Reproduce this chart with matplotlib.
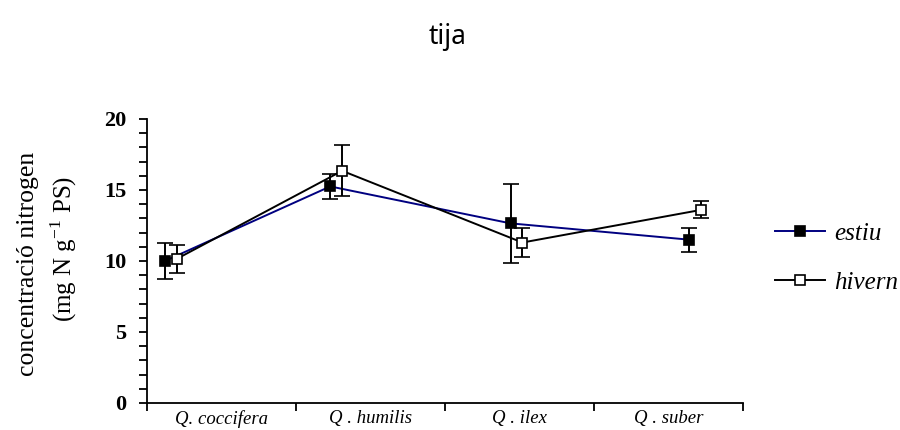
import matplotlib.pyplot as plt
from matplotlib.lines import Line2D
import numpy as np

# concentració de nitrogen a la tija, per espècie i estació
especies = ['Q. coccifera', 'Q . humilis', 'Q . ilex', 'Q . suber']
x_estiu = [0.12, 1.23, 2.44, 3.64]
x_hivern = [0.20, 1.31, 2.52, 3.72]
estiu = [10.0, 15.25, 12.65, 11.5]
estiu_err = [1.25, 0.9, 2.8, 0.85]
hivern = [10.15, 16.35, 11.3, 13.6]
hivern_err = [1.0, 1.8, 1.05, 0.6]

serif = 'Liberation Serif'
plt.rcParams['mathtext.fontset'] = 'custom'
plt.rcParams['mathtext.rm'] = serif

fig = plt.figure(figsize=(9, 4.3), dpi=100)
ax = fig.add_axes([0.1633, 0.0628, 0.6622, 0.6605])

ax.errorbar(x_estiu, estiu, yerr=estiu_err, color='#000080', lw=1.4,
            ecolor='black', elinewidth=1.4, capsize=5.5, capthick=1.4,
            marker='s', ms=7.5, mfc='black', mec='black', mew=1.2, zorder=3)
ax.errorbar(x_hivern, hivern, yerr=hivern_err, color='black', lw=1.4,
            ecolor='black', elinewidth=1.4, capsize=5.5, capthick=1.4,
            marker='s', ms=7.5, mfc='white', mec='black', mew=1.2, zorder=4)

ax.set_xlim(0, 4)
ax.set_ylim(0, 20)

# eix x: marques entre categories, etiquetes al centre
ax.set_xticks(np.arange(0, 5))
ax.set_xticklabels([])
ax.set_xticks(np.arange(len(especies)) + 0.5, minor=True)
ax.set_xticklabels(especies, minor=True, fontfamily=serif,
                   fontstyle='italic', fontsize=13.5)
ax.tick_params(axis='x', which='major', direction='out', length=6, width=1.3)
ax.tick_params(axis='x', which='minor', length=0, pad=5)

ax.set_yticks(np.arange(0, 21, 5))
ax.set_yticks(np.arange(0, 21, 1), minor=True)
ax.tick_params(axis='y', which='both', direction='out', length=6, width=1.3,
               pad=9)
for lbl in ax.get_yticklabels():
    lbl.set_fontfamily(serif)
    lbl.set_fontweight('bold')
    lbl.set_fontsize(16)

ax.spines['top'].set_visible(False)
ax.spines['right'].set_visible(False)
ax.spines['left'].set_linewidth(1.3)
ax.spines['bottom'].set_linewidth(1.3)

fig.text(0.031, 0.386, 'concentració nitrogen', rotation=90, ha='center',
         va='center', fontfamily=serif, fontsize=18.5)
fig.text(0.071, 0.421, r'(mg N g$^{\mathregular{-1}}$ PS)', rotation=90,
         ha='center', va='center', fontfamily=serif, fontsize=18)

fig.text(0.497, 0.914, 'tija', ha='center', va='center',
         fontfamily='Noto Sans', fontsize=19)

# llegenda sense barres d'error
handles = [
    Line2D([], [], color='#000080', lw=1.4, marker='s', ms=6.5,
           mfc='black', mec='black', mew=1.2),
    Line2D([], [], color='black', lw=1.4, marker='s', ms=6.5,
           mfc='white', mec='black', mew=1.2),
]
ax.legend(handles, ['estiu', 'hivern'], loc='center left',
          bbox_to_anchor=(1.012, 0.51), frameon=False, handlelength=2.0,
          labelspacing=1.05, handletextpad=0.35, borderaxespad=0.6,
          prop={'family': serif, 'style': 'italic', 'size': 18})

fig.savefig('out.png', dpi=100)
